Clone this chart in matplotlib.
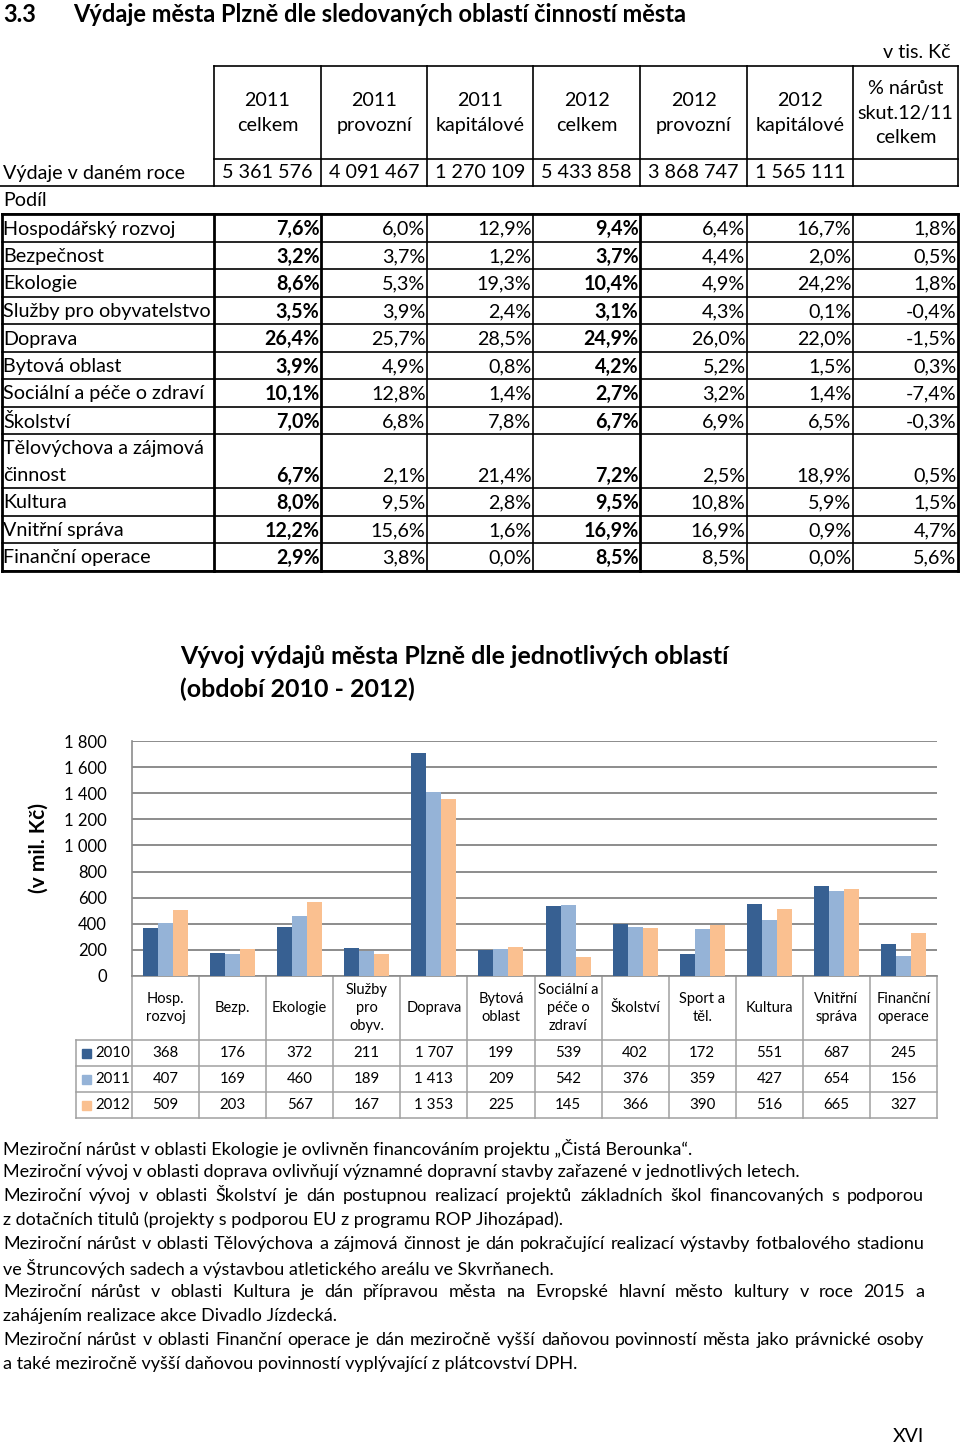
import numpy as np
import matplotlib
matplotlib.use("Agg")
import matplotlib.pyplot as plt
from matplotlib.patches import Rectangle
from matplotlib.transforms import blended_transform_factory

plt.rcParams["font.family"] = ["Lato", "DejaVu Sans"]

# --- table: share of spending by area ---
AREAS = [
    "Hospodářský rozvoj", "Bezpečnost", "Ekologie", "Služby pro obyvatelstvo",
    "Doprava", "Bytová oblast", "Sociální a péče o zdraví", "Školství",
    "Tělovýchova a zájmová\nčinnost", "Kultura", "Vnitřní správa", "Finanční operace",
]
HEADERS = ["2011\ncelkem", "2011\nprovozní", "2011\nkapitálové",
           "2012\ncelkem", "2012\nprovozní", "2012\nkapitálové"]
GROWTH_HEADER = "% nárůst\nskut.12/11\ncelkem"
SPEND_TOTALS = [5361576, 4091467, 1270109, 5433858, 3868747, 1565111]
SHARE_2011_TOTAL = [7.6, 3.2, 8.6, 3.5, 26.4, 3.9, 10.1, 7.0, 6.7, 8.0, 12.2, 2.9]
SHARE_2011_OPER = [6.0, 3.7, 5.3, 3.9, 25.7, 4.9, 12.8, 6.8, 2.1, 9.5, 15.6, 3.8]
SHARE_2011_CAP = [12.9, 1.2, 19.3, 2.4, 28.5, 0.8, 1.4, 7.8, 21.4, 2.8, 1.6, 0.0]
SHARE_2012_TOTAL = [9.4, 3.7, 10.4, 3.1, 24.9, 4.2, 2.7, 6.7, 7.2, 9.5, 16.9, 8.5]
SHARE_2012_OPER = [6.4, 4.4, 4.9, 4.3, 26.0, 5.2, 3.2, 6.9, 2.5, 10.8, 16.9, 8.5]
SHARE_2012_CAP = [16.7, 2.0, 24.2, 0.1, 22.0, 1.5, 1.4, 6.5, 18.9, 5.9, 0.9, 0.0]
GROWTH = [1.8, 0.5, 1.8, -0.4, -1.5, 0.3, -7.4, -0.3, 0.5, 1.5, 4.7, 5.6]

# --- chart: spending 2010-2012 (mil. Kč) ---
CATEGORIES = ["Hosp.\nrozvoj", "Bezp.", "Ekologie", "Služby\npro\nobyv.", "Doprava",
              "Bytová\noblast", "Sociální a\npéče o\nzdraví", "Školství", "Sport a\ntěl.",
              "Kultura", "Vnitřní\nspráva", "Finanční\noperace"]
YEARS = ["2010", "2011", "2012"]
EXP_2010 = [368, 176, 372, 211, 1707, 199, 539, 402, 172, 551, 687, 245]
EXP_2011 = [407, 169, 460, 189, 1413, 209, 542, 376, 359, 427, 654, 156]
EXP_2012 = [509, 203, 567, 167, 1353, 225, 145, 366, 390, 516, 665, 327]
COLORS = ["#376092", "#95b3d7", "#fac090"]

NOTES = [
    ("Meziroční nárůst v oblasti Ekologie je ovlivněn financováním projektu „Čistá Berounka“.", False),
    ("Meziroční vývoj v oblasti doprava ovlivňují významné dopravní stavby zařazené v jednotlivých letech.", False),
    ("Meziroční vývoj v oblasti Školství je dán postupnou realizací projektů základních škol financovaných s podporou", True),
    ("z dotačních titulů (projekty s podporou EU z programu ROP Jihozápad).", False),
    ("Meziroční nárůst v oblasti Tělovýchova a zájmová činnost je dán pokračující realizací výstavby fotbalového stadionu", True),
    ("ve Štruncových sadech a výstavbou atletického areálu ve Skvrňanech.", False),
    ("Meziroční nárůst v oblasti Kultura je dán přípravou města na Evropské hlavní město kultury v roce 2015 a", True),
    ("zahájením realizace akce Divadlo Jízdecká.", False),
    ("Meziroční nárůst v oblasti Finanční operace je dán meziročně vyšší daňovou povinností města jako právnické osoby", True),
    ("a také meziročně vyšší daňovou povinností vyplývající z plátcovství DPH.", False),
]


def thousands(v):
    return f"{v:,}".replace(",", " ")


def pct(v):
    return f"{v:.1f}".replace(".", ",") + "%"


fig = plt.figure(figsize=(9.6, 14.48), dpi=100)
page = fig.add_axes([0, 0, 1, 1])
page.set_xlim(0, 960)
page.set_ylim(1448, 0)
page.axis("off")

TS = 14.2  # table font size

page.text(3, 14, "3.3", fontsize=17, fontweight="bold", va="center")
page.text(73, 14, "Výdaje města Plzně dle sledovaných oblastí činností města",
          fontsize=17, fontweight="bold", va="center")
page.text(951, 52, "v tis. Kč", fontsize=TS, ha="right", va="center")

col_x = [214, 321, 427, 533, 640, 747, 853, 958]
line_kw = dict(color="black", lw=1.2)

# header + yearly total
for y in (66, 159):
    page.plot([214, 958], [y, y], **line_kw)
page.plot([0, 958], [186, 186], **line_kw)
for x in col_x:
    page.plot([x, x], [66, 186], **line_kw)
for i, h in enumerate(HEADERS):
    page.text((col_x[i] + col_x[i + 1]) / 2, 113, h, fontsize=TS, ha="center",
              va="center", linespacing=1.55)
page.text((col_x[6] + col_x[7]) / 2, 113, GROWTH_HEADER, fontsize=TS, ha="center",
          va="center", linespacing=1.55)
page.text(3, 173, "Výdaje v daném roce", fontsize=TS, va="center")
for i, v in enumerate(SPEND_TOTALS):
    page.text((col_x[i] + col_x[i + 1]) / 2, 173, thousands(v), fontsize=TS,
              ha="center", va="center")
page.text(3, 200, "Podíl", fontsize=TS, va="center")

# share table
row_y = [214, 242, 269, 297, 324, 352, 379, 407, 434, 488, 516, 543, 571]
for y in row_y:
    page.plot([2, 958], [y, y], **line_kw)
for x in [2] + col_x:
    lw = 2.0 if x in (2, 958, 214, 321, 640) else 1.2
    page.plot([x, x], [214, 571], color="black", lw=lw)
page.plot([2, 958], [214, 214], color="black", lw=2.0)
page.plot([2, 958], [571, 571], color="black", lw=2.0)

columns = [SHARE_2011_TOTAL, SHARE_2011_OPER, SHARE_2011_CAP,
           SHARE_2012_TOTAL, SHARE_2012_OPER, SHARE_2012_CAP, GROWTH]
bold_cols = {0, 3}
for r, area in enumerate(AREAS):
    top, bot = row_y[r], row_y[r + 1]
    if "\n" in area:
        first, second = area.split("\n")
        page.text(3, top + 14.5, first, fontsize=TS, va="center")
        page.text(3, bot - 12.5, second, fontsize=TS, va="center")
        yv = bot - 12.5
    else:
        yv = (top + bot) / 2 + 1
        page.text(3, yv, area, fontsize=TS, va="center")
    for c, col in enumerate(columns):
        page.text(col_x[c + 1] - 1.5, yv, pct(col[r]), fontsize=TS, ha="right",
                  va="center", fontweight="bold" if c in bold_cols else "normal")

# chart
page.text(180, 656, "Vývoj výdajů města Plzně dle jednotlivých oblastí",
          fontsize=18, fontweight="bold", va="center")
page.text(180, 689, "(období 2010 - 2012)", fontsize=18, fontweight="bold", va="center")
page.text(39, 848, "(v mil. Kč)", fontsize=15, fontweight="bold", rotation=90,
          ha="center", va="center")

ax = fig.add_axes([132 / 960, 1 - 976 / 1448, (937 - 132) / 960, (976 - 741) / 1448])
x = np.arange(len(CATEGORIES))
w = 0.224
series = [EXP_2010, EXP_2011, EXP_2012]
for k, (vals, col) in enumerate(zip(series, COLORS)):
    ax.bar(x + (k - 1) * w, vals, w, color=col, zorder=3)
ax.set_xlim(-0.5, len(CATEGORIES) - 0.5)
ax.set_ylim(0, 1800)
ax.set_yticks(range(0, 1801, 200))
ax.set_yticklabels([thousands(v) for v in range(0, 1801, 200)], fontsize=12)
ax.tick_params(axis="y", length=0, pad=18)
ax.set_xticks([])
ax.yaxis.grid(True, color="#8c8c8c", lw=1.4, zorder=0)
ax.set_axisbelow(True)
for s in ("top", "right"):
    ax.spines[s].set_visible(False)
for s in ("left", "bottom"):
    ax.spines[s].set_color("#8c8c8c")
    ax.spines[s].set_linewidth(1.2)

# data table under the chart
tr = blended_transform_factory(ax.transData, page.transData)
grey = dict(color="#a0a0a0", lw=1.1)
fig.canvas.draw()
right_px = ax.transData.transform((len(CATEGORIES) - 0.5, 0))[0]
for i in range(len(CATEGORIES) + 1):
    page.plot([i - 0.5, i - 0.5], [976, 1118], transform=tr, **grey)
page.plot([76, 76], [1040, 1118], **grey)
for y in (1040, 1066, 1092, 1118):
    page.plot([76, right_px], [y, y], **grey)
for i, cat in enumerate(CATEGORIES):
    page.text(i, 1008, cat, transform=tr, fontsize=10.5, ha="center", va="center",
              linespacing=1.4)
for k, (yr, vals, col) in enumerate(zip(YEARS, series, COLORS)):
    yc = 1053 + 26 * k
    page.add_patch(Rectangle((82, yc - 4.5), 9, 9, color=col))
    page.text(95, yc, yr, fontsize=10.8, va="center")
    for i, v in enumerate(vals):
        page.text(i, yc, thousands(v), transform=tr, fontsize=10.8, ha="center",
                  va="center")

# notes
NS = 13.0
renderer = fig.canvas.get_renderer()
for n, (line, justify) in enumerate(NOTES):
    y = 1148 + 24 * n
    if not justify:
        page.text(3, y, line, fontsize=NS, va="center")
        continue
    words = line.split()
    items = [page.text(0, y, wd, fontsize=NS, va="center") for wd in words]
    widths = [t.get_window_extent(renderer).width for t in items]
    gap = (924 - 3 - sum(widths)) / (len(words) - 1)
    pos = 3
    for t, wd in zip(items, widths):
        t.set_x(pos)
        pos += wd + gap

page.text(924, 1437, "XVI", fontsize=14, ha="right", va="center")

fig.savefig("out.png", dpi=100)
